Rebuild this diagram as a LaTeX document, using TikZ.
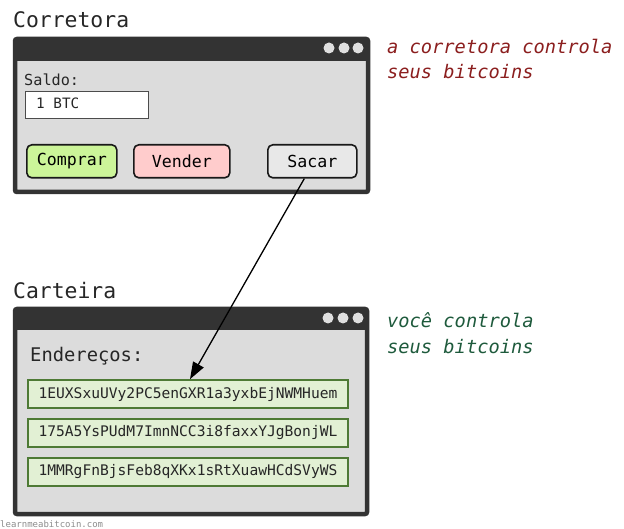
\documentclass[tikz,border=0pt]{standalone}
\usepackage{fontspec}
\setmonofont{DejaVu Sans Mono}
\usetikzlibrary{arrows.meta}
\definecolor{winframe}{HTML}{333333}
\definecolor{winbody}{HTML}{DCDCDC}
\definecolor{dotgrey}{HTML}{E0E0E0}
\definecolor{buygreen}{HTML}{CCF599}
\definecolor{sellpink}{HTML}{FFCCCC}
\definecolor{withdrawgrey}{HTML}{E8E8E8}
\definecolor{addrfill}{HTML}{E2F0D4}
\definecolor{addrborder}{HTML}{4E7A35}
\definecolor{redtext}{HTML}{8B1E1E}
\definecolor{greentext}{HTML}{1E5A3C}
\tikzset{
  x=1pt, y=-1pt,
  wintitle/.style={anchor=base west, inner sep=0pt, font=\ttfamily\fontsize{21.4}{24}\selectfont, text=black!85},
  winbox/.style={draw=winframe, line width=4.5pt, fill=winbody, rounded corners=2pt},
  winbar/.style={fill=winframe},
  windot/.style={circle, fill=dotgrey, inner sep=0pt, minimum size=11pt},
  btn/.style={draw=black!90, line width=1.6pt, rounded corners=5pt, font=\ttfamily\fontsize{16.6}{19}\selectfont, inner sep=0pt},
  addr/.style={draw=addrborder, line width=1.6pt, fill=addrfill, minimum width=320pt, minimum height=28pt, inner sep=0pt, font=\ttfamily\fontsize{14.6}{17}\selectfont, text=black!85},
  note/.style={anchor=west, inner sep=0pt, font=\ttfamily\itshape\fontsize{18.7}{25}\selectfont},
}
\begin{document}
\begin{tikzpicture}
\useasboundingbox (0,0) rectangle (624,529);
% ---------- Corretora ----------
\node[wintitle] (t1) at (13,28) {Corretora};
\draw[winbox] (15,39) rectangle (368,192);
\fill[winbar] (15,39) rectangle (368,61);
\node[windot] (d11) at (329,48) {};
\node[windot] (d12) at (344,48) {};
\node[windot] (d13) at (358,48) {};
\node[anchor=base west, inner sep=0pt, font=\ttfamily\fontsize{15.2}{18}\selectfont, text=black!85] (saldo) at (24,86) {Saldo:};
\node[draw=black!70, line width=1pt, fill=white, minimum width=123pt, minimum height=27pt, inner sep=0pt, anchor=north west] (bal) at (25,91) {};
\node[anchor=base west, inner sep=0pt, font=\ttfamily\fontsize{14.3}{17}\selectfont, text=black!85] (baltext) at (36,109) {1 BTC};
\node[btn, fill=buygreen, minimum width=90pt, minimum height=33pt, anchor=north west] (buy) at (26,144) {Comprar};
\node[btn, fill=sellpink, minimum width=96pt, minimum height=33pt, anchor=north west] (sell) at (133,144) {Vender};
\node[btn, fill=withdrawgrey, minimum width=89pt, minimum height=33pt, anchor=north west] (withdraw) at (267,144) {Sacar};
\node[note, text=redtext, anchor=base west] (n1a) at (387,54) {a corretora controla};
\node[note, text=redtext, anchor=base west] (n1b) at (387,79) {seus bitcoins};
% ---------- Carteira ----------
\node[wintitle] (t2) at (13,299) {Carteira};
\draw[winbox] (15,309) rectangle (367,514);
\fill[winbar] (15,309) rectangle (367,330);
\node[windot] (d21) at (328,318) {};
\node[windot] (d22) at (343,318) {};
\node[windot] (d23) at (358,318) {};
\node[anchor=base west, inner sep=0pt, font=\ttfamily\fontsize{18.8}{22}\selectfont, text=black!85] (addrs) at (30,362) {Endereços:};
\node[addr] (a1) at (188,394) {1EUXSxuUVy2PC5enGXR1a3yxbEjNWMHuem};
\node[addr] (a2) at (188,433) {175A5YsPUdM7ImnNCC3i8faxxYJgBonjWL};
\node[addr] (a3) at (188,472) {1MMRgFnBjsFeb8qXKx1sRtXuawHCdSVyWS};
\node[note, text=greentext, anchor=base west] (n2a) at (387,328) {você controla};
\node[note, text=greentext, anchor=base west] (n2b) at (387,353) {seus bitcoins};
\node[anchor=base west, inner sep=0pt, font=\ttfamily\fontsize{9}{10}\selectfont, text=black!45] (site) at (0,527) {learnmeabitcoin.com};
% ---------- arrow ----------
\coordinate (s) at ([xshift=-8pt]withdraw.south);
\draw[-{Triangle[length=17pt,width=12pt]}, line width=1.3pt] (s) -- ([xshift=2pt]a1.north);
\end{tikzpicture}
\end{document}
